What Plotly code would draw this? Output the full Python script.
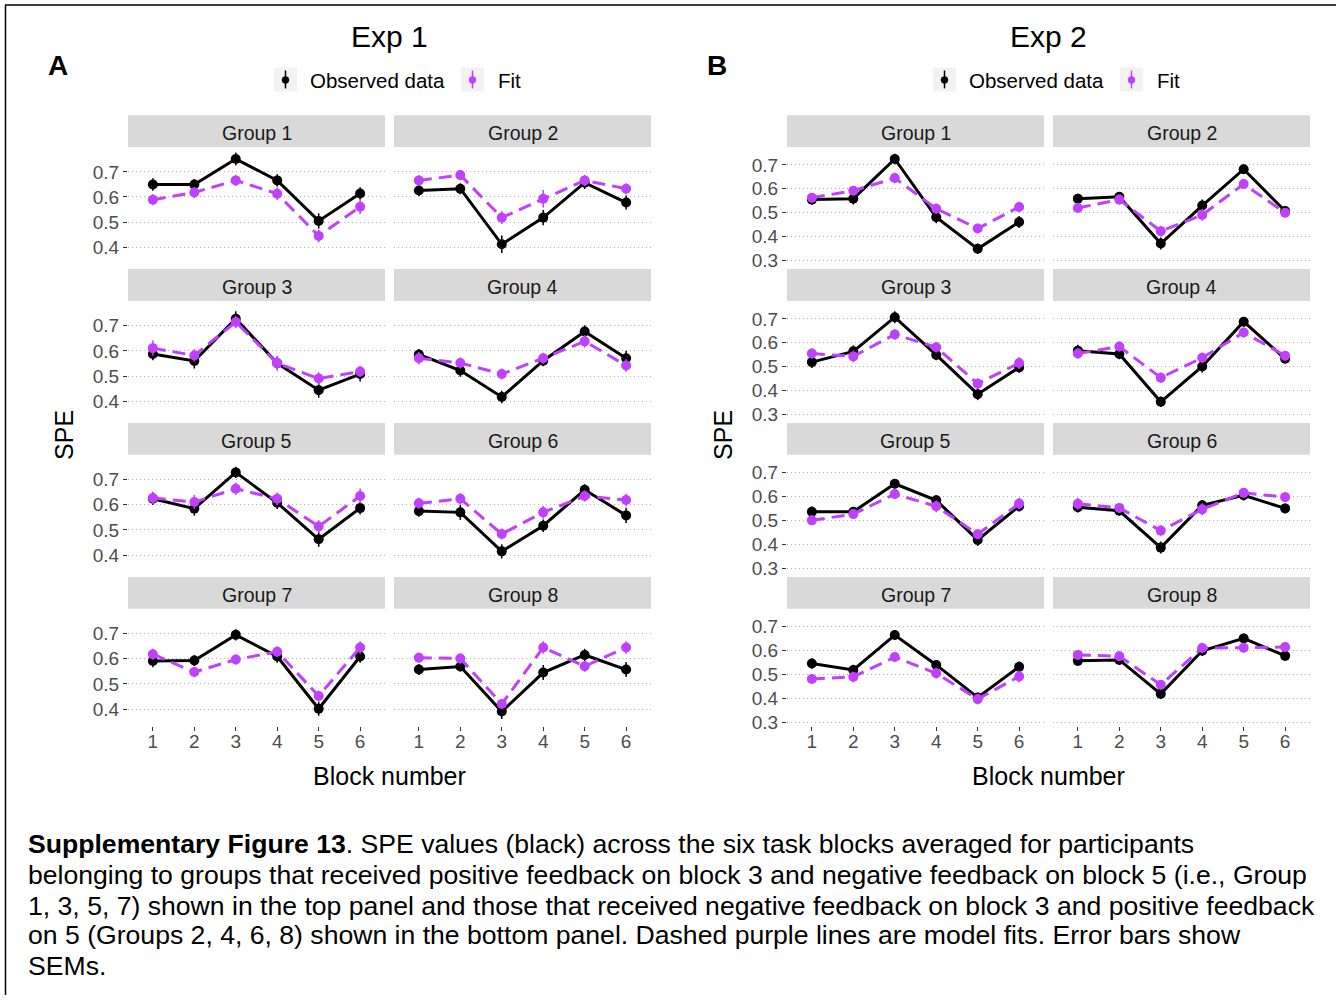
import plotly.graph_objects as go

# ---------------- data ----------------
blocks = [1, 2, 3, 4, 5, 6]
groups = ["Group 1", "Group 2", "Group 3", "Group 4", "Group 5", "Group 6", "Group 7", "Group 8"]
experiments = ["Exp 1", "Exp 2"]
panel_letters = ["A", "B"]

# Exp 1 observed SPE
exp1_obs = [
    [0.650, 0.650, 0.751, 0.666, 0.505, 0.614],
    [0.626, 0.633, 0.412, 0.518, 0.657, 0.578],
    [0.588, 0.560, 0.728, 0.551, 0.444, 0.508],
    [0.586, 0.522, 0.417, 0.561, 0.677, 0.571],
    [0.624, 0.585, 0.729, 0.608, 0.463, 0.587],
    [0.575, 0.570, 0.415, 0.517, 0.660, 0.558],
    [0.591, 0.593, 0.695, 0.609, 0.401, 0.609],
    [0.557, 0.569, 0.390, 0.545, 0.615, 0.557],
]
exp1_obs_sem = [
    [0.025, 0.022, 0.026, 0.024, 0.030, 0.025],
    [0.022, 0.022, 0.035, 0.030, 0.025, 0.028],
    [0.025, 0.030, 0.030, 0.025, 0.030, 0.030],
    [0.022, 0.025, 0.025, 0.022, 0.025, 0.030],
    [0.025, 0.028, 0.022, 0.025, 0.030, 0.025],
    [0.022, 0.030, 0.028, 0.025, 0.022, 0.030],
    [0.025, 0.022, 0.022, 0.025, 0.028, 0.025],
    [0.022, 0.020, 0.030, 0.030, 0.025, 0.030],
]
# Exp 1 model fit
exp1_fit = [
    [0.589, 0.618, 0.666, 0.613, 0.445, 0.561],
    [0.666, 0.687, 0.518, 0.593, 0.666, 0.633],
    [0.611, 0.582, 0.715, 0.551, 0.490, 0.518],
    [0.571, 0.552, 0.508, 0.571, 0.638, 0.542],
    [0.627, 0.611, 0.664, 0.624, 0.514, 0.635],
    [0.606, 0.624, 0.484, 0.570, 0.635, 0.619],
    [0.618, 0.547, 0.597, 0.628, 0.452, 0.645],
    [0.604, 0.601, 0.420, 0.645, 0.570, 0.645],
]
exp1_fit_sem = [
    [0.022, 0.022, 0.022, 0.025, 0.025, 0.030],
    [0.020, 0.020, 0.025, 0.035, 0.022, 0.022],
    [0.030, 0.025, 0.025, 0.030, 0.025, 0.022],
    [0.025, 0.022, 0.022, 0.022, 0.025, 0.025],
    [0.025, 0.028, 0.025, 0.025, 0.025, 0.030],
    [0.022, 0.022, 0.022, 0.025, 0.022, 0.025],
    [0.022, 0.020, 0.020, 0.022, 0.022, 0.025],
    [0.020, 0.020, 0.020, 0.025, 0.022, 0.025],
]

# Exp 2 observed SPE
exp2_obs = [
    [0.555, 0.559, 0.725, 0.481, 0.349, 0.461],
    [0.559, 0.567, 0.371, 0.530, 0.682, 0.507],
    [0.519, 0.564, 0.707, 0.549, 0.385, 0.497],
    [0.567, 0.553, 0.353, 0.501, 0.688, 0.533],
    [0.537, 0.537, 0.654, 0.585, 0.419, 0.560],
    [0.556, 0.541, 0.387, 0.564, 0.606, 0.551],
    [0.546, 0.519, 0.665, 0.540, 0.404, 0.532],
    [0.557, 0.561, 0.419, 0.599, 0.651, 0.578],
]
exp2_obs_sem = [
    [0.022, 0.025, 0.022, 0.025, 0.022, 0.025],
    [0.020, 0.020, 0.025, 0.025, 0.020, 0.020],
    [0.025, 0.025, 0.025, 0.022, 0.025, 0.022],
    [0.025, 0.022, 0.022, 0.025, 0.020, 0.020],
    [0.022, 0.020, 0.020, 0.022, 0.025, 0.022],
    [0.022, 0.020, 0.025, 0.022, 0.022, 0.020],
    [0.022, 0.022, 0.020, 0.020, 0.020, 0.022],
    [0.020, 0.020, 0.022, 0.022, 0.020, 0.020],
]
# Exp 2 model fit
exp2_fit = [
    [0.563, 0.592, 0.645, 0.517, 0.434, 0.524],
    [0.520, 0.555, 0.423, 0.491, 0.620, 0.500],
    [0.555, 0.543, 0.635, 0.581, 0.429, 0.515],
    [0.555, 0.584, 0.454, 0.537, 0.643, 0.546],
    [0.501, 0.527, 0.611, 0.560, 0.443, 0.571],
    [0.570, 0.553, 0.458, 0.547, 0.616, 0.598],
    [0.481, 0.490, 0.573, 0.505, 0.397, 0.492],
    [0.582, 0.576, 0.457, 0.611, 0.612, 0.615],
]
exp2_fit_sem = [
    [0.020, 0.020, 0.022, 0.022, 0.020, 0.022],
    [0.020, 0.020, 0.022, 0.025, 0.020, 0.020],
    [0.022, 0.025, 0.022, 0.022, 0.022, 0.025],
    [0.022, 0.020, 0.022, 0.022, 0.020, 0.020],
    [0.020, 0.020, 0.022, 0.025, 0.020, 0.025],
    [0.025, 0.020, 0.022, 0.025, 0.020, 0.020],
    [0.020, 0.022, 0.020, 0.022, 0.022, 0.025],
    [0.020, 0.020, 0.020, 0.022, 0.020, 0.020],
]

y_ticks_exp1 = [0.4, 0.5, 0.6, 0.7]
y_ticks_exp2 = [0.3, 0.4, 0.5, 0.6, 0.7]
y_range_exp1 = [0.333, 0.795]
y_range_exp2 = [0.285, 0.771]
x_range = [0.4, 6.6]

legend_labels = ["Observed data", "Fit"]
caption_lines = [
    "<b>Supplementary Figure 13</b>. SPE values (black) across the six task blocks averaged for participants",
    "belonging to groups that received positive feedback on block 3 and negative feedback on block 5 (i.e., Group",
    "1, 3, 5, 7) shown in the top panel and those that received negative feedback on block 3 and positive feedback",
    "on 5 (Groups 2, 4, 6, 8) shown in the bottom panel. Dashed purple lines are model fits. Error bars show",
    "SEMs.",
]

# ---------------- styling ----------------
W, H = 1336, 1002
FONT = "Liberation Sans, Arial, Helvetica, sans-serif"
BLACK = "#000000"
PURPLE = "#BF40FF"
STRIP = "#D9D9D9"


def px(x):
    return x / W


def py(y):
    return 1 - y / H


fig = go.Figure()
layout = dict(
    width=W, height=H,
    margin=dict(l=0, r=0, t=0, b=0),
    paper_bgcolor="white", plot_bgcolor="white",
    showlegend=False,
    font=dict(family=FONT),
)
shapes = []
annotations = []

exp_data = [
    (exp1_obs, exp1_obs_sem, exp1_fit, exp1_fit_sem, y_range_exp1, y_ticks_exp1),
    (exp2_obs, exp2_obs_sem, exp2_fit, exp2_fit_sem, y_range_exp2, y_ticks_exp2),
]

axis_n = 0
for e, (obs, obs_sem, fit, fit_sem, yr, yt) in enumerate(exp_data):
    dx = 659 * e
    for g in range(8):
        axis_n += 1
        row, col = g // 2, g % 2
        x0 = 128 + dx + col * 266
        x1 = x0 + 257
        st = 116 + row * 155
        top, bot = st + 33, st + 150
        xa = "xaxis" if axis_n == 1 else f"xaxis{axis_n}"
        ya = "yaxis" if axis_n == 1 else f"yaxis{axis_n}"
        xr = "x" if axis_n == 1 else f"x{axis_n}"
        yrf = "y" if axis_n == 1 else f"y{axis_n}"
        bottom_row = row == 3
        left_col = col == 0
        layout[xa] = dict(
            domain=[px(x0), px(x1)], anchor=yrf, range=x_range,
            tickvals=blocks, ticktext=[str(b) for b in blocks],
            showticklabels=bottom_row, ticks="outside" if bottom_row else "",
            ticklen=4, tickwidth=1, tickcolor="#333333", ticklabelstandoff=-6,
            tickfont=dict(size=19, color="#4D4D4D", family=FONT),
            showgrid=False, zeroline=False, showline=False, fixedrange=True,
        )
        layout[ya] = dict(
            domain=[py(bot), py(top)], anchor=xr, range=yr,
            tickvals=yt, ticktext=[f"{v:.1f}" for v in yt],
            showticklabels=left_col, ticks="outside" if left_col else "",
            ticklen=4, tickwidth=1, tickcolor="#333333",
            tickfont=dict(size=19, color="#4D4D4D", family=FONT),
            showgrid=True, gridcolor="#B5B5B5", gridwidth=1, griddash="1px,3px",
            zeroline=False, showline=False, fixedrange=True,
        )
        # observed
        fig.add_trace(go.Scatter(
            x=blocks, y=obs[g], xaxis=xr, yaxis=yrf, mode="lines+markers",
            line=dict(color=BLACK, width=3),
            marker=dict(color=BLACK, size=10),
            error_y=dict(type="data", array=obs_sem[g], color=BLACK, thickness=1.5, width=0),
            name=legend_labels[0],
        ))
        # fit
        fig.add_trace(go.Scatter(
            x=blocks, y=fit[g], xaxis=xr, yaxis=yrf, mode="lines+markers",
            line=dict(color=PURPLE, width=3, dash="13px,7px"),
            marker=dict(color=PURPLE, size=10),
            error_y=dict(type="data", array=fit_sem[g], color=PURPLE, thickness=1.5, width=0),
            name=legend_labels[1],
        ))
        # strip
        shapes.append(dict(type="rect", xref="paper", yref="paper",
                           x0=px(x0), x1=px(x1), y0=py(st + 32), y1=py(st),
                           fillcolor=STRIP, line=dict(width=0), layer="below"))
        annotations.append(dict(xref="paper", yref="paper", x=px((x0 + x1) / 2), y=py(st + 18),
                                text=groups[g], showarrow=False, xanchor="center", yanchor="middle",
                                font=dict(size=19.5, color="#1A1A1A", family=FONT)))

    # titles and panel letters
    annotations.append(dict(xref="paper", yref="paper", x=px(389 + dx), y=py(37),
                            text=experiments[e], showarrow=False, xanchor="center", yanchor="middle",
                            font=dict(size=30, color="black", family=FONT)))
    annotations.append(dict(xref="paper", yref="paper", x=px(58 + dx), y=py(66),
                            text=f"<b>{panel_letters[e]}</b>", showarrow=False, xanchor="center",
                            yanchor="middle", font=dict(size=28, color="black", family=FONT)))
    # axis titles
    annotations.append(dict(xref="paper", yref="paper", x=px(389 + dx), y=py(781),
                            text="Block number", showarrow=False, xanchor="center", yanchor="middle",
                            font=dict(size=25, color="black", family=FONT)))
    annotations.append(dict(xref="paper", yref="paper", x=px(64 + dx), y=py(438),
                            text="SPE", showarrow=False, xanchor="center", yanchor="middle",
                            textangle=-90, font=dict(size=25, color="black", family=FONT)))
    # legend
    keys = [(274 + dx, BLACK, 308 + dx, legend_labels[0]), (461 + dx, PURPLE, 496 + dx, legend_labels[1])]
    for kx, kc, tx, lbl in keys:
        shapes.append(dict(type="rect", xref="paper", yref="paper",
                           x0=px(kx), x1=px(kx + 23), y0=py(92), y1=py(68),
                           fillcolor="#F2F2F2", line=dict(width=0)))
        cx = kx + 11.5
        shapes.append(dict(type="line", xref="paper", yref="paper",
                           x0=px(cx), x1=px(cx), y0=py(89), y1=py(71),
                           line=dict(color=kc, width=1.5)))
        shapes.append(dict(type="circle", xref="paper", yref="paper",
                           x0=px(cx - 3.5), x1=px(cx + 3.5), y0=py(84), y1=py(77),
                           fillcolor=kc, line=dict(color=kc, width=0.5)))
        annotations.append(dict(xref="paper", yref="paper", x=px(tx), y=py(81),
                                text=lbl, showarrow=False, xanchor="left", yanchor="middle",
                                font=dict(size=20.5, color="black", family=FONT)))

# caption
cap_y = [850, 881, 912, 942, 973]
for line, yy in zip(caption_lines, cap_y):
    annotations.append(dict(xref="paper", yref="paper", x=px(26), y=py(yy),
                            text=line, showarrow=False, xanchor="left", yanchor="middle",
                            font=dict(size=26.6, color="black", family=FONT)))

# frame
shapes.append(dict(type="line", xref="paper", yref="paper", x0=px(5), x1=1, y0=py(5), y1=py(5),
                   line=dict(color="black", width=1.5)))
shapes.append(dict(type="line", xref="paper", yref="paper", x0=px(5.5), x1=px(5.5), y0=0, y1=py(5),
                   line=dict(color="black", width=1.5)))

layout["shapes"] = shapes
layout["annotations"] = annotations
fig.update_layout(**layout)

fig.write_html(
    "out.html",
    config={"displayModeBar": False},
    post_script="document.body.style.margin='0';document.body.style.overflow='hidden';"
                "document.documentElement.style.overflow='hidden';",
)
